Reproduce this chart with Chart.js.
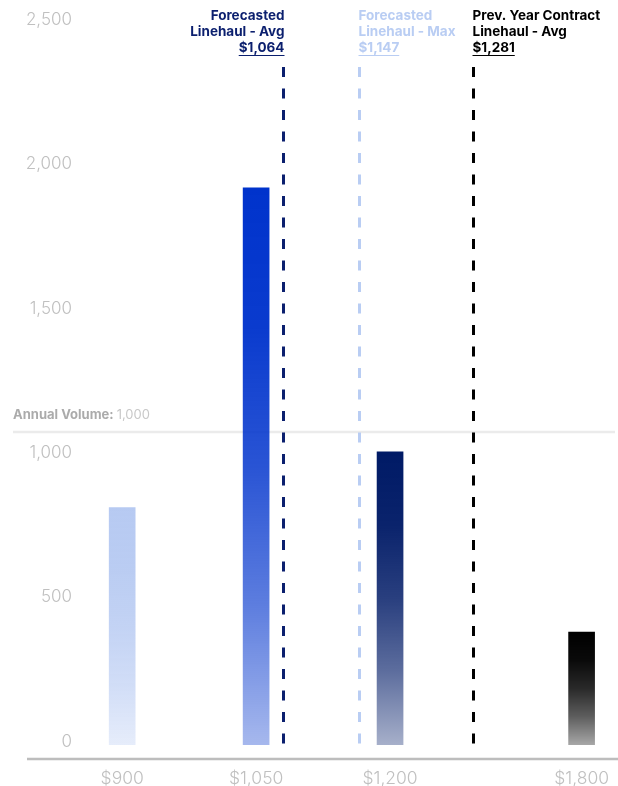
<!DOCTYPE html>
<html>
<head>
<meta charset="utf-8">
<script src="https://cdn.jsdelivr.net/npm/chart.js@4.4.0/dist/chart.umd.min.js"></script>
<style>
  html, body { margin: 0; padding: 0; background: #fff; }
  #wrap { width: 618px; height: 786px; position: relative; }
</style>
</head>
<body>
<div id="wrap"><canvas id="volChart"></canvas></div>
<script>
// price points and annual volume at each one
const priceLabels = ['$900', '$1,050', '$1,200', '$1,800'];
const volumes = [821, 1929, 1014, 390];
// place of each price on the (uneven) x axis
const pricePos = [1, 2, 3, 4.43];

// reference linehaul rates
const refNames = [
    ['Forecasted', 'Linehaul - Avg'],
    ['Forecasted', 'Linehaul - Max'],
    ['Prev. Year Contract', 'Linehaul - Avg']
];
const refValues = [1064, 1147, 1281];
const refPos = [2.2, 2.77, 3.62];

const annualVolume = 1000;
const yTicks = [0, 500, 1000, 1500, 2000, 2500];

const barColors = ['#b7caf2', '#0033cc', '#001a66', '#000000'];
const refColors = ['#0b1f6e', '#b9cdf3', '#000000'];
const tickGrey = '#c0c0c0';

Chart.defaults.font.family = 'Inter, "Liberation Sans", sans-serif';

function hexToRgb(hex) {
    const n = parseInt(hex.slice(1), 16);
    return [(n >> 16) & 255, (n >> 8) & 255, n & 255];
}

function fmt(v) {
    return v.toLocaleString('en-US');
}

// bar fades out towards the bottom
function barGradient(ctx) {
    const chart = ctx.chart;
    if (ctx.type !== 'data' || !chart.chartArea) return barColors[0];
    const i = ctx.dataIndex;
    const yS = chart.scales.y;
    const g = chart.ctx.createLinearGradient(0, yS.getPixelForValue(volumes[i]), 0, yS.getPixelForValue(0));
    const [r, gr, b] = hexToRgb(barColors[i]);
    [0, 0.25, 0.5, 0.75, 1].forEach(t => {
        const a = 1 - 0.65 * t * t;
        g.addColorStop(t, `rgba(${r},${gr},${b},${a})`);
    });
    return g;
}

const volumeLine = {
    id: 'volumeLine',
    beforeDatasetsDraw(chart) {
        const c = chart.ctx;
        const y = chart.scales.yVol.getPixelForValue(annualVolume);
        c.save();
        c.strokeStyle = '#ebebeb';
        c.lineWidth = 2.5;
        c.beginPath();
        c.moveTo(13, y);
        c.lineTo(615, y);
        c.stroke();

        c.textBaseline = 'middle';
        c.textAlign = 'left';
        c.font = 'bold 13px Inter, sans-serif';
        c.fillStyle = '#ababab';
        const lbl = 'Annual Volume: ';
        c.fillText(lbl, 13, y - 17);
        const w = c.measureText(lbl).width;
        c.font = '13px Inter, sans-serif';
        c.fillStyle = '#c8c8c8';
        c.fillText(fmt(annualVolume), 13 + w, y - 17);

        // bottom axis line, runs past the y labels
        c.strokeStyle = '#bdbdbd';
        c.lineWidth = 2.5;
        c.beginPath();
        c.moveTo(27, chart.chartArea.bottom);
        c.lineTo(618, chart.chartArea.bottom);
        c.stroke();
        c.restore();
    }
};

const refLines = {
    id: 'refLines',
    afterDatasetsDraw(chart) {
        const c = chart.ctx;
        const xS = chart.scales.x;
        const y0 = chart.scales.y.getPixelForValue(0);
        c.save();
        refPos.forEach((pos, i) => {
            const x = Math.round(xS.getPixelForValue(pos)) + 0.5;
            c.strokeStyle = refColors[i];
            c.lineWidth = 3;
            c.setLineDash([10, 11.5]);
            c.beginPath();
            c.moveTo(x, 67);
            c.lineTo(x, y0);
            c.stroke();
            c.setLineDash([]);

            const right = i === 0;
            const tx = right ? x + 1 : x - 1;
            c.textAlign = right ? 'right' : 'left';
            c.textBaseline = 'middle';
            c.font = 'bold 13.5px Inter, sans-serif';
            c.fillStyle = refColors[i];
            c.fillText(refNames[i][0], tx, 16);
            c.fillText(refNames[i][1], tx, 32);
            const val = '$' + fmt(refValues[i]);
            c.fillText(val, tx, 48);
            const w = c.measureText(val).width;
            c.lineWidth = 1;
            c.strokeStyle = refColors[i];
            c.beginPath();
            const ux = right ? tx - w : tx;
            c.moveTo(ux, 55.5);
            c.lineTo(ux + w, 55.5);
            c.stroke();
        });
        c.restore();
    }
};

new Chart(document.getElementById('volChart'), {
    type: 'bar',
    data: {
        datasets: [{
            data: pricePos.map((p, i) => ({ x: p, y: volumes[i] })),
            backgroundColor: barGradient,
            borderWidth: 0,
            barThickness: 26
        }]
    },
    options: {
        responsive: true,
        maintainAspectRatio: false,
        animation: false,
        layout: { padding: { top: 23, left: 0, right: 0, bottom: 0 } },
        plugins: {
            legend: { display: false },
            tooltip: { enabled: false }
        },
        scales: {
            x: {
                type: 'linear',
                offset: false,
                min: 0.7,
                max: 4.7,
                afterFit: s => { s.height = 27; },
                afterBuildTicks: s => { s.ticks = pricePos.map(v => ({ value: v })); },
                grid: { display: false, drawTicks: false, offset: false },
                border: { display: false },
                ticks: {
                    color: tickGrey,
                    font: { size: 17.5, weight: 300 },
                    padding: 9,
                    autoSkip: false,
                    maxRotation: 0,
                    callback: (v, i) => priceLabels[i]
                }
            },
            y: {
                min: -50,
                max: 2500,
                afterFit: s => { s.width = 82; },
                afterBuildTicks: s => { s.ticks = yTicks.map(v => ({ value: v })); },
                grid: { display: false, drawTicks: false },
                border: { display: false },
                ticks: {
                    color: tickGrey,
                    font: { size: 17, weight: 300 },
                    padding: 10,
                    labelOffset: -3,
                    callback: v => fmt(v)
                }
            },
            yVol: {
                display: false,
                min: -50,
                max: 2313
            }
        }
    },
    plugins: [volumeLine, refLines]
});
</script>
</body>
</html>
